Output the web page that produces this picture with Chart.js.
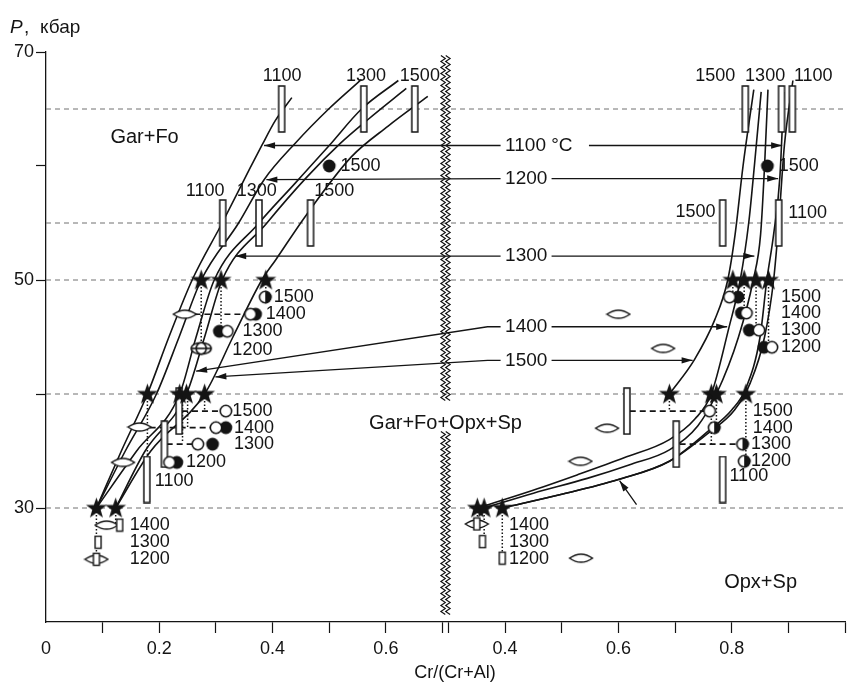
<!DOCTYPE html>
<html>
<head>
<meta charset="utf-8">
<script src="https://cdn.jsdelivr.net/npm/chart.js@4.4.1/dist/chart.umd.min.js"></script>
<style>
  html, body { margin: 0; padding: 0; background: #fff; }
</style>
</head>
<body>
<canvas id="chart" width="850" height="682"></canvas>
<script>
// The x axis is broken: 0..0.7 on the left, 0.3..1.0 on the right.
// Right-hand values are stored as real Cr/(Cr+Al) and shifted when plotted.
const X_SHIFT = 0.4105;
const X_MAX = 1.0 + X_SHIFT;

const FONT = '"Liberation Sans", Arial, Helvetica, sans-serif';
const INK = '#141414';

// axis ticks
const xTicksLeft = [0, 0.1, 0.2, 0.3, 0.4, 0.5, 0.6, 0.7];
const xLabelsLeft = ['0', '', '0.2', '', '0.4', '', '0.6', ''];
const xTicksRight = [0.3, 0.4, 0.5, 0.6, 0.7, 0.8, 0.9, 1.0];
const xLabelsRight = ['', '0.4', '', '0.6', '', '0.8', '', ''];
const yTicks = [30, 40, 50, 60, 70];
const yLabels = ['30', '', '50', '', '70'];
const dashedLevels = [30, 40, 50, 55, 65];

// isotherms, left part  [Cr/(Cr+Al), P kbar]
const curveL1100 = [[0.089,30],[0.133,35],[0.179,40],[0.217,45],[0.258,50],[0.311,55],[0.359,59.7],[0.381,61.8],[0.405,64],[0.434,66]];
const curveL1200 = [[0.089,30],[0.14,35],[0.195,40],[0.235,45],[0.274,50],[0.34,55],[0.385,58.8],[0.44,62],[0.499,65],[0.557,67.6]];
const curveL1300 = [[0.089,30],[0.16,35],[0.236,40],[0.265,45],[0.297,50],[0.376,55],[0.44,58.5],[0.5,61.8],[0.557,65],[0.622,67.5]];
const curveL1400 = [[0.123,30],[0.175,35],[0.248,40],[0.28,45],[0.311,50],[0.39,55],[0.46,59],[0.52,62],[0.569,64.1],[0.636,66.8]];
const curveL1500 = [[0.123,30],[0.185,35],[0.28,40],[0.33,45],[0.381,50],[0.406,51.8],[0.458,55.6],[0.539,60.8],[0.604,63.5],[0.674,66.1]];

// isotherms, right part
const curveR1100 = [[0.395,30],[0.5,31.2],[0.6,32.5],[0.69,34.1],[0.762,36.7],[0.805,38.6],[0.833,41],[0.858,45],[0.874,50],[0.883,55],[0.893,61.8],[0.908,67.5]];
const curveR1200 = [[0.395,30],[0.5,31.2],[0.6,32.5],[0.69,34.1],[0.76,36.8],[0.8,38.6],[0.825,40.5],[0.85,45],[0.862,50],[0.874,54],[0.885,59],[0.892,66.5]];
const curveR1300 = [[0.363,30],[0.45,31.3],[0.545,32.6],[0.62,33.8],[0.69,35.1],[0.74,37.2],[0.773,40],[0.812,45],[0.838,50],[0.851,54],[0.858,60],[0.864,66.7]];
const curveR1400 = [[0.351,30],[0.44,31.4],[0.527,32.9],[0.61,34.4],[0.69,36],[0.735,37.8],[0.764,40],[0.795,45.8],[0.815,50],[0.83,55],[0.84,60],[0.852,66.5]];
const curveR1500 = [[0.69,40],[0.734,43],[0.77,46.5],[0.793,50],[0.806,54],[0.82,60],[0.839,66.7]];

// markers
const starsL = [[0.274,50],[0.309,50],[0.388,50],[0.179,40],[0.236,40],[0.248,40],[0.28,40],[0.089,30],[0.123,30]];
const starsR = [[0.802,50],[0.822,50],[0.843,50],[0.865,50],[0.69,40],[0.764,40],[0.773,40],[0.825,40],[0.351,30],[0.363,30],[0.395,30]];
const openL = [[0.361,47],[0.32,45.5],[0.3175,38.5],[0.3,37.05],[0.268,35.6],[0.218,34]];
const openR = [[0.796,48.5],[0.826,47.1],[0.848,45.6],[0.871,44.1],[0.761,38.5]];
const filledL = [[0.5,60],[0.37,47],[0.306,45.5],[0.3175,37.05],[0.294,35.6],[0.231,34]];
const filledR = [[0.863,60],[0.811,48.5],[0.817,47.1],[0.831,45.6],[0.857,44.1]];
const halfL = [[0.387,48.5]];
const halfR = [[0.769,37.05],[0.819,35.6],[0.822,34.1]];
const ovalL = [[0.274,44]];
const lensL = [[0.245,47],[0.165,37.1],[0.136,34],[0.107,28.5],[0.089,25.5]];
const lensR = [[0.6,47],[0.679,44],[0.58,37],[0.533,34.1],[0.534,25.6],[0.35,28.6]];
const bracketsL = [[0.416,65],[0.561,65],[0.651,65],[0.312,55],[0.376,55],[0.467,55],[0.235,38.5],[0.209,35.6],[0.178,32.5]];
const bracketsR = [[0.824,65],[0.888,65],[0.907,65],[0.784,55],[0.883,55],[0.615,38.5],[0.702,35.6],[0.784,32.5]];
const smallL = [[0.13,28.5],[0.092,27],[0.089,25.5]];
const smallR = [[0.35,28.6],[0.36,27.05],[0.395,25.6]];

// connectors: dotted [x, Ptop, Pbottom], dashed [P, x1, x2]
const dotsL = [[0.274,50,44.6],[0.309,50,45.9],[0.388,50,49.1],[0.179,40,34.5],[0.241,40,35.8],[0.25,40,37.1],[0.28,40,38.5],[0.089,30,25.5],[0.123,30,28.5]];
const dotsR = [[0.802,50,48.9],[0.822,50,47.4],[0.843,50,45.9],[0.865,50,44.4],[0.69,40,38.5],[0.764,40,35.6],[0.773,40,37.5],[0.825,40,34.4],[0.351,30,28.6],[0.363,30,27.3],[0.395,30,26.1]];
const dashL = [[47,0.262,0.352],[38.5,0.24,0.309],[37.05,0.183,0.292],[35.6,0.213,0.26]];
const dashR = [[38.5,0.62,0.752],[35.6,0.708,0.81]];
const solidL = [[28.5,0.107,0.13]];

// isotherm labels in the middle with arrows to both sides
const isoText = ['1100 °C', '1200', '1300', '1400', '1500'];
const isoP = [61.8, 58.9, 52.1, 45.9, 42.95];
const isoTextX = 0.40;
const isoStartL = 0.392;
const isoStartR = [0.548, 0.482, 0.482, 0.482, 0.482];
const isoKink = [null, null, null, 0.369, 0.369];
const isoTipL = [[0.385,61.8],[0.389,58.8],[0.334,52.1],[0.265,42],[0.299,41.5]];
const isoTipR = [[0.889,61.8],[0.882,58.9],[0.84,52.1],[0.792,45.9],[0.731,42.95]];
const extraArrowR = [[0.632,30.3],[0.602,32.4]];

// text labels [text, x, P, align, size]
const textL = [
  ['1100',0.417,67.9,'center'],['1300',0.565,67.9,'center'],['1500',0.66,67.9,'center'],
  ['1100',0.281,57.8,'center'],['1300',0.372,57.8,'center'],['1500',0.509,57.8,'center'],
  ['1500',0.52,60,'left'],
  ['1500',0.402,48.5,'left'],['1400',0.388,47,'left'],['1300',0.347,45.5,'left'],['1200',0.329,43.9,'left'],
  ['1500',0.329,38.5,'left'],['1400',0.332,37.05,'left'],['1300',0.332,35.6,'left'],['1200',0.247,34,'left'],['1100',0.192,32.4,'left'],
  ['1400',0.148,28.5,'left'],['1300',0.148,27,'left'],['1200',0.148,25.5,'left'],
  ['Gar+Fo',0.174,62.5,'center',20]
];
const textR = [
  ['1500',0.771,67.9,'center'],['1300',0.859,67.9,'center'],['1100',0.944,67.9,'center'],
  ['1500',0.736,56,'center'],['1100',0.9,55.85,'left'],
  ['1500',0.883,60,'left'],
  ['1500',0.887,48.5,'left'],['1400',0.887,47.1,'left'],['1300',0.887,45.6,'left'],['1200',0.887,44.1,'left'],
  ['1500',0.837,38.5,'left'],['1400',0.837,37.05,'left'],['1300',0.834,35.6,'left'],['1200',0.834,34.1,'left'],['1100',0.796,32.8,'left'],
  ['1400',0.407,28.5,'left'],['1300',0.407,27,'left'],['1200',0.407,25.5,'left'],
  ['Opx+Sp',0.851,23.5,'center',20]
];
const middleLabel = ['Gar+Fo+Opx+Sp', 0.70525, 37.4];

const L = p => ({ x: p[0], y: p[1] });
const R = p => ({ x: p[0] + X_SHIFT, y: p[1] });

// marker images
function mk(w, h, draw) {
  const c = document.createElement('canvas');
  c.width = w; c.height = h;
  draw(c.getContext('2d'));
  return c;
}
const starImg = mk(23, 23, g => {
  g.fillStyle = INK; g.beginPath();
  for (let i = 0; i < 10; i++) {
    const r = i % 2 ? 4.4 : 11;
    const a = -Math.PI / 2 + i * Math.PI / 5;
    g.lineTo(11.5 + r * Math.cos(a), 12 + r * Math.sin(a));
  }
  g.closePath(); g.fill();
});
const openImg = mk(16, 16, g => {
  g.beginPath(); g.arc(8, 8, 5.7, 0, 2 * Math.PI);
  g.fillStyle = '#fff'; g.fill();
  g.lineWidth = 1.6; g.strokeStyle = INK; g.stroke();
});
const filledImg = mk(16, 16, g => {
  g.beginPath(); g.arc(8, 8, 6.4, 0, 2 * Math.PI);
  g.fillStyle = INK; g.fill();
});
const halfImg = mk(16, 16, g => {
  g.beginPath(); g.arc(8, 8, 5.7, 0, 2 * Math.PI);
  g.fillStyle = '#fff'; g.fill();
  g.lineWidth = 1.6; g.strokeStyle = INK; g.stroke();
  g.beginPath(); g.arc(8, 8, 6.4, -Math.PI / 2, Math.PI / 2); g.closePath();
  g.fillStyle = INK; g.fill();
});
const lensImg = mk(26, 12, g => {
  g.beginPath(); g.moveTo(1.5, 6);
  g.quadraticCurveTo(13, -2.2, 24.5, 6);
  g.quadraticCurveTo(13, 14.2, 1.5, 6);
  g.closePath();
  g.fillStyle = '#fff'; g.fill();
  g.lineWidth = 1.5; g.strokeStyle = INK; g.stroke();
});
const ovalImg = mk(26, 16, g => {
  g.beginPath(); g.ellipse(13, 8, 10, 5.8, 0, 0, 2 * Math.PI);
  g.fillStyle = '#fff'; g.fill();
  g.lineWidth = 1.6; g.strokeStyle = INK; g.stroke();
  g.beginPath(); g.moveTo(3, 8); g.lineTo(23, 8); g.stroke();
  g.beginPath(); g.ellipse(13, 8, 5, 5.8, 0, 0, 2 * Math.PI); g.stroke();
});
const bracketImg = mk(10, 48, g => {
  g.fillStyle = '#fff'; g.fillRect(2, 1, 6, 46);
  g.lineWidth = 1.5; g.strokeStyle = INK; g.strokeRect(2, 1, 6, 46);
});
const smallImg = mk(10, 15, g => {
  g.fillStyle = '#fff'; g.fillRect(2, 1.5, 6, 12);
  g.lineWidth = 1.4; g.strokeStyle = INK; g.strokeRect(2, 1.5, 6, 12);
});

// datasets
const datasets = [];
function gaps(lines) {
  const out = [];
  lines.forEach(line => { line.forEach(p => out.push(p)); out.push({ x: null, y: null }); });
  return out;
}
function addLine(data, opts) {
  datasets.push(Object.assign({
    data, showLine: true, pointRadius: 0, borderColor: INK, borderWidth: 1.5,
    tension: 0, spanGaps: false, fill: false
  }, opts));
}
function addMarks(data, img, order) {
  datasets.push({ data, showLine: false, pointStyle: img, pointRadius: 5, order });
}

addLine(gaps(dashedLevels.map(p => [L([0, p]), L([X_MAX, p])])),
  { borderColor: '#707070', borderWidth: 1, borderDash: [5, 4], order: 20 });

[curveL1100, curveL1200, curveL1300, curveL1400, curveL1500].forEach(c =>
  addLine(c.map(L), { cubicInterpolationMode: 'monotone', borderWidth: 1.6, order: 15 }));
[curveR1100, curveR1200, curveR1300, curveR1400, curveR1500].forEach(c =>
  addLine(c.map(R), { cubicInterpolationMode: 'monotone', borderWidth: 1.6, order: 15 }));

addLine(gaps(dotsL.map(d => [L([d[0], d[1]]), L([d[0], d[2]])]).concat(
             dotsR.map(d => [R([d[0], d[1]]), R([d[0], d[2]])]))),
  { borderWidth: 1.5, borderDash: [1.5, 2], order: 14 });
addLine(gaps(dashL.map(d => [L([d[1], d[0]]), L([d[2], d[0]])]).concat(
             dashR.map(d => [R([d[1], d[0]]), R([d[2], d[0]])]))),
  { borderWidth: 1.6, borderDash: [6, 4], order: 14 });
addLine(gaps(solidL.map(d => [L([d[1], d[0]]), L([d[2], d[0]])])), { borderWidth: 1.4, order: 14 });

// arrow shafts
const arrowLines = [];
isoText.forEach((t, i) => {
  const left = [R([isoStartL, isoP[i]])];
  if (isoKink[i] !== null) left.push(R([isoKink[i], isoP[i]]));
  left.push(L(isoTipL[i]));
  arrowLines.push(left);
  arrowLines.push([R([isoStartR[i], isoP[i]]), R(isoTipR[i])]);
});
arrowLines.push(extraArrowR.map(R));
addLine(gaps(arrowLines), { borderWidth: 1.3, order: 13 });

addMarks(bracketsL.map(L).concat(bracketsR.map(R)), bracketImg, 10);
addMarks(lensL.map(L).concat(lensR.map(R)), lensImg, 9);
addMarks(smallL.map(L).concat(smallR.map(R)), smallImg, 8);
addMarks(ovalL.map(L), ovalImg, 8);
addMarks(filledL.map(L).concat(filledR.map(R)), filledImg, 6);
addMarks(halfL.map(L).concat(halfR.map(R)), halfImg, 6);
addMarks(openL.map(L).concat(openR.map(R)), openImg, 5);
addMarks(starsL.map(L).concat(starsR.map(R)), starImg, 3);

const xTickValues = xTicksLeft.concat(xTicksRight.map(v => v + X_SHIFT));
const xTickText = xLabelsLeft.concat(xLabelsRight);

function arrowHead(ctx, x0, y0, x1, y1) {
  const a = Math.atan2(y1 - y0, x1 - x0), len = 11, w = 3.2;
  ctx.beginPath();
  ctx.moveTo(x1, y1);
  ctx.lineTo(x1 - len * Math.cos(a) + w * Math.sin(a), y1 - len * Math.sin(a) - w * Math.cos(a));
  ctx.lineTo(x1 - len * Math.cos(a) - w * Math.sin(a), y1 - len * Math.sin(a) + w * Math.cos(a));
  ctx.closePath();
  ctx.fill();
}

function zigzag(ctx, xc, y0, y1) {
  ctx.beginPath();
  let k = 0;
  for (let yy = y0; yy <= y1; yy += 3, k++) ctx.lineTo(xc + (k % 2 ? 2.2 : -2.2), yy);
  ctx.stroke();
}

const annotate = {
  id: 'annotate',
  afterDatasetsDraw(chart) {
    const { ctx, scales: { x, y } } = chart;
    const px = v => x.getPixelForValue(v);
    const py = v => y.getPixelForValue(v);
    ctx.save();
    ctx.fillStyle = INK;
    ctx.strokeStyle = INK;

    // arrowheads at the ends of the shafts
    arrowLines.forEach(line => {
      const a = line[line.length - 2], b = line[line.length - 1];
      arrowHead(ctx, px(a.x), py(a.y), px(b.x), py(b.y));
    });

    // axis break
    ctx.lineWidth = 1.2;
    const xb = px(middleLabel[1]);
    [[69.7, 39.3], [36.7, 20.4]].forEach(r => {
      zigzag(ctx, xb - 2.4, py(r[0]), py(r[1]));
      zigzag(ctx, xb + 2.4, py(r[0]), py(r[1]));
    });

    // labels
    ctx.textBaseline = 'middle';
    const put = (t, xv, pv, align, size) => {
      ctx.font = (size || 18) + 'px ' + FONT;
      ctx.textAlign = align;
      ctx.fillText(t, px(xv), py(pv));
    };
    textL.forEach(t => put(t[0], t[1], t[2], t[3], t[4]));
    textR.forEach(t => put(t[0], t[1] + X_SHIFT, t[2], t[3], t[4]));
    isoText.forEach((t, i) => put(t, isoTextX + X_SHIFT, isoP[i], 'left', 19));
    put(middleLabel[0], middleLabel[1], middleLabel[2], 'center', 20);

    // axis titles
    ctx.textBaseline = 'alphabetic';
    ctx.textAlign = 'left';
    ctx.font = 'italic 19px ' + FONT;
    ctx.fillText('P', 10, 33);
    ctx.font = '19px ' + FONT;
    ctx.fillText(',', 24, 33);
    ctx.fillText('кбар', 40, 33);
    ctx.textAlign = 'center';
    ctx.font = '18px ' + FONT;
    ctx.fillText('Cr/(Cr+Al)', 455, 678);
    ctx.restore();
  }
};

new Chart(document.getElementById('chart'), {
  type: 'scatter',
  data: { datasets },
  options: {
    responsive: false,
    animation: false,
    events: [],
    layout: { padding: { left: 0, right: 0, top: 52, bottom: 0 }, autoPadding: false },
    plugins: { legend: { display: false }, tooltip: { enabled: false } },
    scales: {
      x: {
        type: 'linear', min: 0, max: X_MAX,
        afterBuildTicks: s => { s.ticks = xTickValues.map(v => ({ value: v })); },
        afterFit: s => { s.height = 60; },
        grid: {
          drawOnChartArea: false, drawTicks: true, tickLength: 11, tickWidth: 1.2,
          tickColor: c => (c.index === 0 ? 'rgba(0,0,0,0)' : INK)
        },
        border: { color: INK, width: 1.3 },
        ticks: {
          autoSkip: false, maxRotation: 0, padding: 5, color: INK,
          font: { family: FONT, size: 18 },
          callback: (v, i) => xTickText[i]
        }
      },
      y: {
        min: 20, max: 70,
        afterBuildTicks: s => { s.ticks = yTicks.map(v => ({ value: v })); },
        afterFit: s => { s.width = 46; },
        grid: { drawOnChartArea: false, drawTicks: true, tickLength: 10, tickWidth: 1.2, tickColor: INK },
        border: { color: INK, width: 1.3 },
        ticks: {
          padding: 2, color: INK, font: { family: FONT, size: 18 },
          callback: (v, i) => yLabels[i]
        }
      }
    }
  },
  plugins: [annotate]
});
</script>
</body>
</html>
